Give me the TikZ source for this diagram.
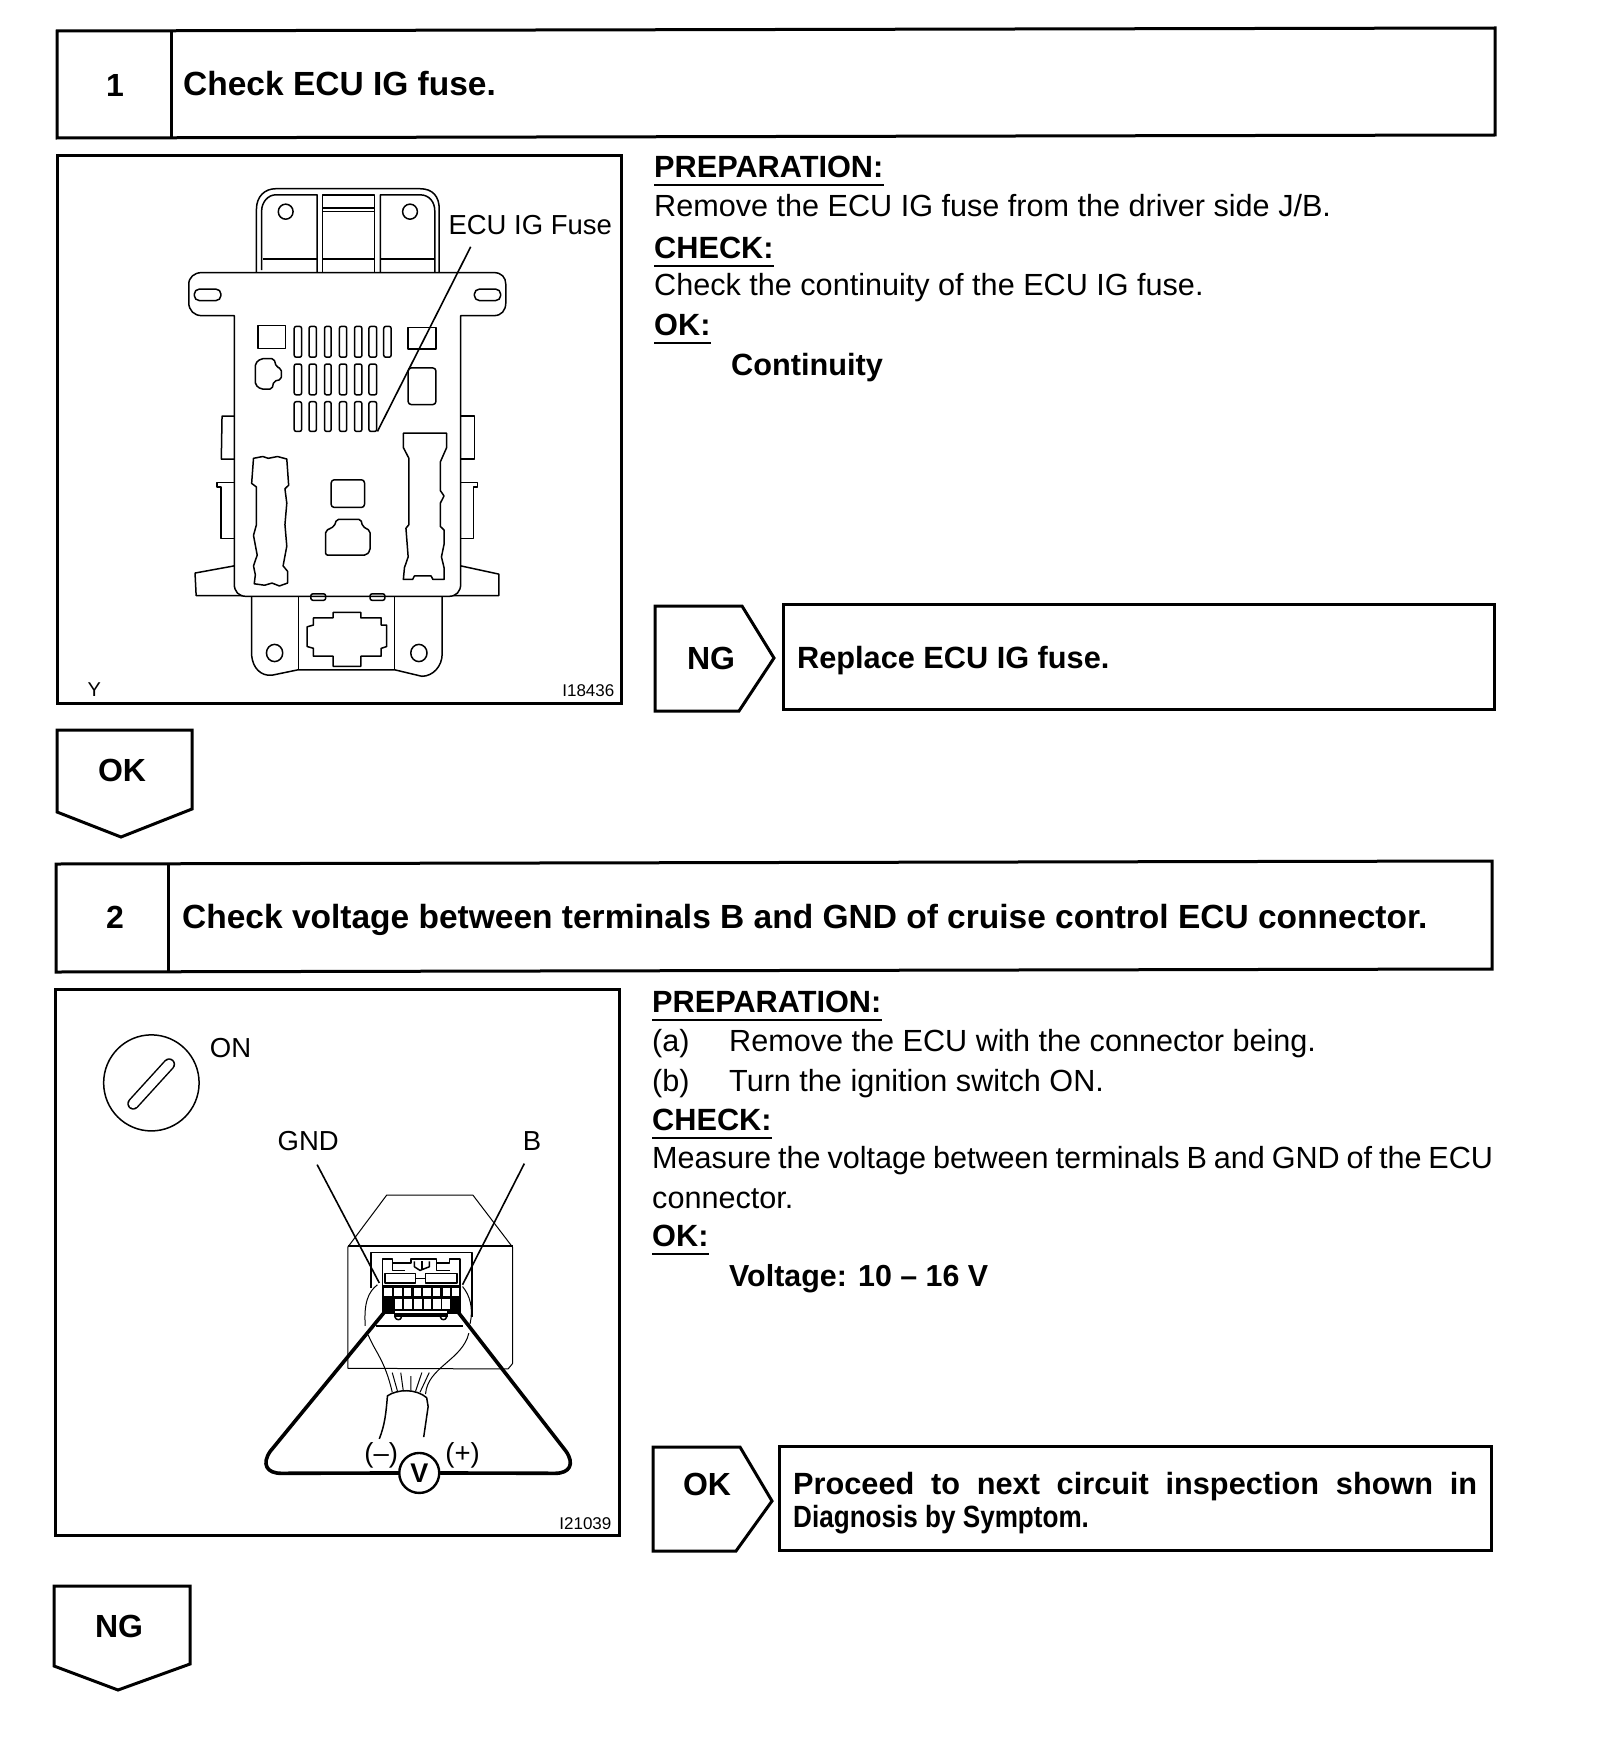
\documentclass[tikz,border=0pt]{standalone}
\usepackage{graphicx}
\usepackage{fontspec}
\setmainfont{Liberation Sans}
\tikzset{
 x=1pt,y=-1pt,
 frame/.style={draw=black,line width=3pt,line join=miter},
 body/.style={anchor=base west,inner sep=0pt,font=\fontsize{30.6}{36}\selectfont},
 bold/.style={anchor=base west,inner sep=0pt,font=\fontsize{30.7}{36}\selectfont\bfseries},
 title/.style={anchor=base west,inner sep=0pt,font=\fontsize{33.5}{36}\selectfont\bfseries},
 ctr/.style={anchor=center,inner sep=0pt,font=\fontsize{32}{36}\selectfont\bfseries},
 lab/.style={anchor=center,inner sep=0pt,font=\fontsize{27.5}{34}\selectfont},
 tiny/.style={anchor=center,inner sep=0pt,font=\fontsize{17}{20}\selectfont},
 ln/.style={draw=black,line width=1.5pt,line join=round},
 thin/.style={draw=black,line width=1pt,line join=round},
 thick2/.style={draw=black,line width=3.6pt,line join=round,line cap=round},
 leader/.style={draw=black,line width=1.6pt},
 fuseA/.style={x=.37pt,y=-.3585pt,shift={(50pt,-150pt)}},
 fuseB/.style={x=.37pt,y=-.3585pt,shift={(50pt,-980pt)}},
}
\newcommand{\headnode}[4]{\node[bold] (#1) at (#2,#3) {#4};
 \draw[line width=1.5pt] ([yshift=-8pt]#1.base west) -- ([yshift=-8pt]#1.base east);}
\newcommand{\slotr}[4]{\draw[ln,rounded corners=2pt] (#1,#2) rectangle (#3,#4);}
\begin{document}
\begin{tikzpicture}
\useasboundingbox (0,0) rectangle (1600,1750);
\fill[white] (0,0) rectangle (1600,1750);
%% ---- step 1 ----
\draw[frame] (57,31) -- (1495,28) -- (1495,135) -- (57,138) -- cycle;
\draw[frame] (171,30) -- (171,137);
\node[ctr] (n1) at (115,85) {1};
\node[title] (t1) at (183,96) {Check ECU IG fuse.};
\draw[frame] (57,155) rectangle (621,703);
\headnode{prep1}{654}{177}{PREPARATION:}
\node[body] (rem1) at (654,216) {Remove the ECU IG fuse from the driver side J/B.};
\headnode{chk1}{654}{258}{CHECK:}
\node[body] (cnt1) at (654,295) {Check the continuity of the ECU IG fuse.};
\headnode{ok1}{654}{335}{OK:}
\node[bold] (cont1) at (731,375) {Continuity};
\draw[frame] (655,606) -- (742,606) -- (774,658) -- (739,711) -- (655,711) -- cycle;
\node[ctr] (ng1) at (711,658) {NG};
\draw[frame] (783,604) rectangle (1494,709);
\node[bold] (rep1) at (797,668) {Replace ECU IG fuse.};
\draw[frame] (57,730) -- (192,730) -- (192,809) -- (121,837) -- (57,812) -- cycle;
\node[ctr] (okd1) at (122,770) {OK};
%% fuse box drawing
\begin{scope}[fuseA]
 \draw[ln] (558,340) -- (558,165) .. controls (558,130) and (580,108) .. (610,108) -- (1000,108) .. controls (1035,108) and (1052,130) .. (1052,165) -- (1052,340);
 \draw[ln] (572,335) -- (572,170) .. controls (572,145) and (590,125) .. (610,125) -- (722,125) -- (722,340);
 \draw[ln] (737,340) -- (737,125) -- (877,125) -- (877,340);
 \draw[ln] (893,340) -- (893,125) -- (1000,125) .. controls (1025,125) and (1040,145) .. (1040,170) -- (1040,340);
 \draw[ln] (737,162) -- (877,162) (737,172) -- (877,172);
 \draw[ln] (575,304) -- (722,304) (737,304) -- (877,304) (893,304) -- (1040,304);
 \draw[ln] (637,172) circle[x radius=20,y radius=21];
 \draw[ln] (973,172) circle[x radius=20,y radius=21];
 %% plate
 \draw[ln] (410,342) -- (1200,342) .. controls (1220,342) and (1232,355) .. (1232,375) -- (1232,425) .. controls (1232,448) and (1220,462) .. (1200,462) -- (1110,462) -- (1110,1210) .. controls (1110,1232) and (1098,1245) .. (1078,1245) -- (530,1245) .. controls (510,1245) and (498,1232) .. (498,1210) -- (498,462) -- (410,462) .. controls (390,462) and (375,448) .. (375,425) -- (375,375) .. controls (375,355) and (390,342) .. (410,342) -- cycle;
 \draw[ln,rounded corners=5pt] (390,388) rectangle (462,420);
 \draw[ln,rounded corners=5pt] (1147,388) rectangle (1218,420);
 \foreach \xa/\xb in {660/680,700/720,742/760,782/802,823/843,862/883,902/922}{\slotr{\xa}{492}{\xb}{578}}
 \foreach \xa/\xb in {660/680,700/720,742/760,782/802,823/843,862/883}{\slotr{\xa}{597}{\xb}{683}\slotr{\xa}{702}{\xb}{785}}
 \draw[ln] (562,490) rectangle (637,553);
 \draw[ln] (967,495) rectangle (1043,555);
 \draw[ln,rounded corners=2pt] (570,582) -- (605,582) -- (612,605) -- (625,610) -- (625,640) -- (605,645) -- (600,667) -- (570,667) -- (555,655) -- (555,595) -- cycle;
 \draw[ln,rounded corners=3pt] (968,608) rectangle (1043,710);
 %% left long socket
 \draw[ln] (550,860) -- (575,855) -- (590,860) -- (615,855) -- (640,862) -- (645,935) -- (635,945) -- (640,985) -- (635,1045) -- (640,1105) -- (630,1160) -- (642,1175) -- (642,1208) -- (620,1216) -- (600,1208) -- (580,1214) -- (552,1210) -- (555,1185) -- (550,1160) -- (560,1130) -- (550,1075) -- (558,1045) -- (558,940) -- (545,930) -- cycle;
 %% right long socket
 \draw[ln] (955,790) -- (1072,790) -- (1072,830) -- (1055,870) -- (1055,950) -- (1065,965) -- (1055,985) -- (1055,1050) -- (1065,1060) -- (1065,1100) -- (1058,1135) -- (1065,1165) -- (1065,1198) -- (1035,1198) -- (1030,1188) -- (985,1188) -- (980,1198) -- (955,1198) -- (958,1165) -- (968,1135) -- (962,1055) -- (970,1045) -- (970,860) -- (955,830) -- cycle;
 \draw[ln,rounded corners=3pt] (760,920) rectangle (850,997);
 \draw[ln,rounded corners=2pt] (745,1130) -- (745,1062) -- (768,1050) -- (775,1030) -- (840,1030) -- (845,1050) -- (865,1062) -- (865,1118) -- (855,1130) -- cycle;
 %% side tabs
 \draw[ln] (498,742) -- (465,742) -- (463,862) -- (498,862);
 \draw[ln] (1110,742) -- (1147,742) -- (1147,862) -- (1110,862);
 \draw[ln] (498,928) -- (452,928) -- (452,940) -- (462,940) -- (462,1083) -- (498,1083);
 \draw[ln] (1110,928) -- (1155,928) -- (1155,940) -- (1145,940) -- (1145,1083) -- (1110,1083);
 \draw[ln] (498,1160) -- (392,1180) -- (395,1243) -- (520,1243);
 \draw[ln] (1110,1160) -- (1213,1183) -- (1213,1243) -- (1090,1243);
 %% bottom
 \draw[ln] (545,1245) -- (545,1410) .. controls (548,1445) and (570,1468) .. (600,1465) -- (670,1450) -- (932,1450) -- (1005,1468) .. controls (1035,1468) and (1060,1440) .. (1060,1405) -- (1060,1245);
 \draw[thin] (672,1245) -- (672,1450) (932,1245) -- (932,1450);
 \draw[ln] (607,1403) circle[x radius=22,y radius=24];
 \draw[ln] (997,1403) circle[x radius=22,y radius=24];
 \draw[ln,rounded corners=2pt] (705,1238) rectangle (745,1256);
 \draw[ln,rounded corners=2pt] (865,1238) rectangle (905,1256);
 \draw[ln] (765,1290) -- (840,1290) -- (840,1305) -- (895,1305) -- (895,1325) -- (910,1325) -- (910,1385) -- (895,1390) -- (895,1412) -- (840,1412) -- (840,1440) -- (765,1440) -- (765,1412) -- (712,1412) -- (712,1390) -- (695,1385) -- (695,1330) -- (712,1325) -- (712,1305) -- (765,1305) -- cycle;
 %% labels
 \node[lab] (fuselab) at (1298,210) {ECU IG Fuse};
 \coordinate (fusetop) at (1137,270);
 \coordinate (fuseend) at (885,785);
 \draw[leader] (fusetop) -- (fuseend);
 \node[tiny,font=\fontsize{20}{24}\selectfont] (yy) at (120,1505) {Y};
 \node[tiny] (code1) at (1455,1508) {I18436};
\end{scope}
%% ---- step 2 ----
\draw[frame] (56,864) -- (1492,861) -- (1492,969) -- (56,972) -- cycle;
\draw[frame] (168,863) -- (168,971);
\node[ctr] (n2) at (115,917) {2};
\node[title] (t2) at (182,928) {Check voltage between terminals B and GND of cruise control ECU connector.};
\draw[frame] (55,989) rectangle (619,1535);
\headnode{prep2}{652}{1012}{PREPARATION:}
\node[body] (a2) at (652,1051) {(a)};
\node[body] (a2t) at (729,1051) {Remove the ECU with the connector being.};
\node[body] (b2) at (652,1091) {(b)};
\node[body] (b2t) at (729,1091) {Turn the ignition switch ON.};
\headnode{chk2}{652}{1130}{CHECK:}
\node[body] (m2) at (652,1168) {\hbox to 841pt{Measure\hfill the\hfill voltage\hfill between\hfill terminals\hfill B\hfill and\hfill GND\hfill of\hfill the\hfill ECU}};
\node[body] (m2b) at (652,1208) {connector.};
\headnode{ok2}{652}{1246}{OK:}
\node[bold,font=\fontsize{30.4}{36}\selectfont\bfseries] (volt2) at (729,1286) {Voltage: 10 – 16 V};
\draw[frame] (653,1447) -- (740,1447) -- (772,1501) -- (736,1551) -- (653,1551) -- cycle;
\node[ctr] (okr2) at (707,1484) {OK};
\draw[frame] (779,1446) rectangle (1491,1550);
\node[bold] (pr2) at (793,1494) {\hbox to 684pt{Proceed\hfill to\hfill next\hfill circuit\hfill inspection\hfill shown\hfill in}};
\node[bold] (pr2b) at (793,1527) {\scalebox{.85}[1]{Diagnosis by Symptom.}};
\draw[frame] (54,1586) -- (190,1586) -- (190,1664) -- (118,1690) -- (54,1666) -- cycle;
\node[ctr] (ngd2) at (119,1626) {NG};
%% meter drawing
\begin{scope}[fuseB]
 \draw[ln] (274,287) circle[x radius=129,y radius=134];
 \draw[line width=12pt,line cap=round,black] (225,345) -- (322,235);
 \draw[line width=9pt,line cap=round,white] (225,345) -- (322,235);
 \node[lab] (onlab) at (488,190) {ON};
 \node[lab] (gndlab) at (698,448) {GND};
 \node[lab] (blab) at (1303,448) {B};
 %% housing
 \draw[thin] (805,745) -- (910,600) -- (1143,600) -- (1250,745) -- (1250,1070) -- (1238,1085) -- (805,1083) -- cycle;
 \draw[ln] (805,742) -- (1250,742);
 \draw[ln] (867,860) -- (867,760) -- (1140,760) -- (1140,940);
 %% connector top
 \draw[ln] (898,850) -- (898,778) -- (925,778) -- (925,790) -- (975,790) -- (975,778) -- (1045,778) -- (1045,790) -- (1080,790) -- (1080,778) -- (1108,778) -- (1108,850);
 \draw[ln] (925,790) -- (925,810) -- (960,810) (1045,790) -- (1045,810) -- (1080,810);
 \draw[ln] (985,785) -- (985,800) -- (1000,810) -- (1025,800) -- (1025,785);
 \draw[ln] (1005,785) -- (1005,808);
 \draw[ln] (905,818) rectangle (988,845);
 \draw[ln] (1015,818) rectangle (1100,845);
 \draw[ln] (988,832) -- (1015,832);
 %% connector cavities
 \fill[black] (898,850) rectangle (1110,932);
 \fill[black] (930,932) rectangle (1075,940);
 \foreach \xx in {903,930,957,983,1009,1035,1061,1086}{\fill[white] (\xx,858) rectangle ++(20,24);}
 \foreach \xx in {932,958,985,1011,1036,1060}{\fill[white] (\xx,890) rectangle ++(20,28);}
 \fill[white] (932,922) rectangle (1074,930);
 \draw[ln] (932,940) .. controls (936,950) and (948,950) .. (950,940);
 \draw[ln] (1055,940) .. controls (1057,950) and (1070,950) .. (1072,940);
 %% wires
 \draw[thin] (885,850) .. controls (860,870) and (848,900) .. (852,965);
 \draw[thin] (1115,855) .. controls (1135,880) and (1145,915) .. (1135,960);
 \draw[ln] (880,965) -- (1115,965);
 \draw[thin] (860,990) .. controls (880,1040) and (905,1060) .. (925,1150);
 \draw[thin] (1132,985) .. controls (1115,1060) and (1020,1080) .. (1015,1155);
 \draw[thin] (925,1095) -- (940,1150) (948,1095) -- (955,1147) (975,1105) -- (975,1145) (1005,1095) -- (988,1147) (1025,1095) -- (1000,1150);
 %% grommet
 \draw[ln] (890,1280) .. controls (905,1240) and (908,1210) .. (912,1160) .. controls (940,1140) and (990,1140) .. (1018,1165) -- (1022,1190) -- (1010,1275);
 %% meter and loop
 \node[draw=black,line width=2.4pt,circle,minimum size=40pt,inner sep=0pt,font=\fontsize{27}{30}\selectfont\bfseries] (vm) at (998,1375) {V};
 \coordinate (gndpin) at (905,925);
 \coordinate (bpin) at (1102,925);
 \coordinate (gndend) at (890,845);
 \coordinate (bend) at (1115,850);
 \draw[thick2] (gndpin) -- (595,1315) .. controls (572,1350) and (585,1376) .. (625,1376) -- (vm.west);
 \draw[thick2] (bpin) -- (1395,1315) .. controls (1418,1350) and (1405,1376) .. (1365,1376) -- (vm.east);
 \coordinate (gndtop) at (722,515);
 \coordinate (btop) at (1282,512);
 \draw[leader] (gndtop) -- (gndend);
 \draw[leader] (btop) -- (bend);
 \node[lab] (minus) at (895,1325) {(–)};
 \node[lab] (plus) at (1115,1325) {(+)};
 \node[tiny] (code2) at (1447,1515) {I21039};
\end{scope}
\end{tikzpicture}
\end{document}
